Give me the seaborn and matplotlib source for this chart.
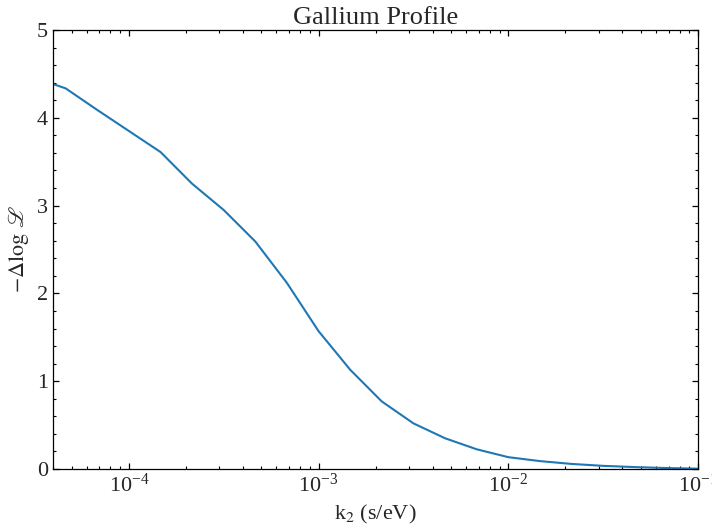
import numpy as np
import pandas as pd
import matplotlib
matplotlib.use("Agg")
import matplotlib.pyplot as plt
import seaborn as sns

# data
log10_k2 = [-4.40, -4.333, -4.167, -4.0, -3.833, -3.667, -3.5, -3.333, -3.167,
            -3.0, -2.833, -2.667, -2.5, -2.333, -2.167, -2.0, -1.833, -1.667,
            -1.5, -1.333, -1.167, -1.0]
neg_dlogL = [4.385, 4.335, 4.09, 3.85, 3.61, 3.25, 2.95, 2.59, 2.12,
             1.57, 1.13, 0.77, 0.52, 0.35, 0.225, 0.135, 0.09, 0.058,
             0.036, 0.022, 0.011, 0.004]

df = pd.DataFrame({"k2": np.power(10.0, log10_k2), "dlogL": neg_dlogL})

sns.set_style("ticks")
plt.rcParams["font.family"] = ["Liberation Serif", "DejaVu Serif"]
plt.rcParams["mathtext.fontset"] = "stix"
plt.rcParams["xtick.direction"] = "in"
plt.rcParams["ytick.direction"] = "in"

fig = plt.figure(figsize=(7.12, 5.29), dpi=100)
ax = fig.add_axes([0.0744, 0.1134, 0.9059, 0.8299])

sns.lineplot(data=df, x="k2", y="dlogL", ax=ax, color="#1f77b4", linewidth=1.5)
ax.set_xscale("log")
ax.set_xlim(df["k2"].min(), df["k2"].max())
ax.set_ylim(0, 5)
ax.set_yticks([0, 1, 2, 3, 4, 5])
ax.yaxis.set_minor_locator(matplotlib.ticker.MultipleLocator(0.2))

ax.tick_params(which="both", direction="in", top=True, right=True,
               labelsize=16, color="black")
ax.tick_params(which="major", length=4.5, width=0.9)
ax.tick_params(which="minor", length=2.5, width=0.8)
for s in ax.spines.values():
    s.set_color("black")
    s.set_linewidth(0.9)

ax.set_title("Gallium Profile", fontsize=19, pad=4)
ax.set_xlabel(r"k$_2$ (s/eV)", fontsize=16)
ax.set_ylabel(r"$-\Delta\log\,\mathscr{L}$", fontsize=16)

fig.savefig("out.png", dpi=100)
